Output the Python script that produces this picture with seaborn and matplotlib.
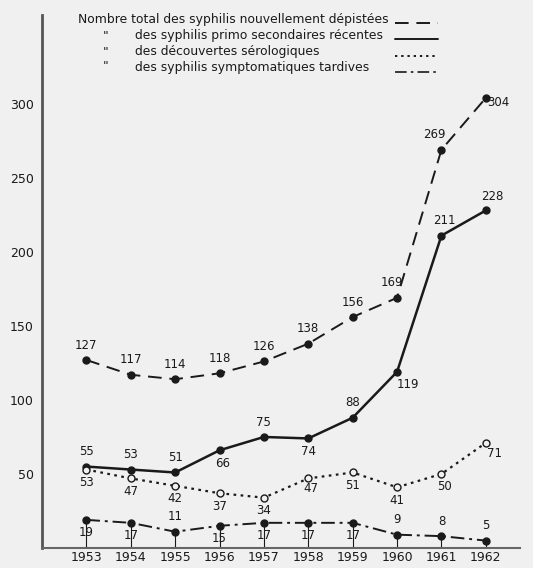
import pandas as pd
import matplotlib.pyplot as plt
import seaborn as sns
import numpy as np
from matplotlib.lines import Line2D

# Data
years = [1953, 1954, 1955, 1956, 1957, 1958, 1959, 1960, 1961, 1962]
total = [127, 117, 114, 118, 126, 138, 156, 169, 269, 304]
primo = [55, 53, 51, 66, 75, 74, 88, 119, 211, 228]
sero = [53, 47, 42, 37, 34, 47, 51, 41, 50, 71]
tardives = [19, 17, 11, 15, 17, 17, 17, 9, 8, 5]

first_label = "Nombre total des syphilis nouvellement dépistées"
other_labels = [
    "des syphilis primo secondaires récentes",
    "des découvertes sérologiques",
    "des syphilis symptomatiques tardives",
]

sns.set_style("white")
plt.rcParams["font.family"] = ["Liberation Sans Narrow", "DejaVu Sans"]
bg = "#f0f0f0"
ink = "#1a1a1a"

fig = plt.figure(figsize=(5.33, 5.68), dpi=100, facecolor=bg)
ax = fig.add_axes([42 / 533, 20 / 568, 478 / 533, 533 / 568])
ax.set_facecolor(bg)

df = pd.DataFrame({"year": years, "total": total, "primo": primo,
                   "sero": sero, "tardives": tardives})

styles = {
    "total": dict(ls=(0, (7, 4)), mfc=ink, lw=1.4),
    "primo": dict(ls="-", mfc=ink, lw=1.8),
    "sero": dict(ls=(0, (1.2, 2)), mfc=bg, lw=1.6),
    "tardives": dict(ls=(0, (7, 2.5, 1.5, 2.5)), mfc=ink, lw=1.4),
}
for col, st in styles.items():
    sns.lineplot(data=df, x="year", y=col, ax=ax, color=ink, linestyle=st["ls"],
                 linewidth=st["lw"], marker="o", markersize=5,
                 markerfacecolor=st["mfc"], markeredgecolor=ink, markeredgewidth=1)

# drop lines to the axis
ax.vlines(years, 0, tardives, color=ink, lw=0.8)

# value labels: offsets in points
offs = {
    "total": [(0, 6), (0, 6), (0, 6), (0, 6), (0, 6), (0, 6), (0, 6), (-4, 6), (-5, 6), (9, -8)],
    "primo": [(0, 6), (0, 6), (0, 6), (2, -14), (0, 6), (0, -14), (0, 6), (8, -14), (2, 6), (5, 5)],
    "sero": [(0, -14), (0, -14), (0, -14), (0, -14), (0, -14), (2, -12), (0, -14), (0, -14), (2, -14), (6, -12)],
    "tardives": [(0, -14), (0, -14), (0, 6), (0, -14), (0, -14), (0, -14), (0, -14), (0, 6), (0, 6), (0, 6)],
}
for col in offs:
    for x, v, o in zip(years, df[col], offs[col]):
        ax.annotate(str(v), (x, v), xytext=o, textcoords="offset points",
                    ha="center", va="bottom", fontsize=8.5, color=ink)

ax.set_xlim(1952.0, 1962.77)
ax.set_ylim(0, 360)
ax.set_yticks([50, 100, 150, 200, 250, 300])
ax.set_xticks(years)
ax.tick_params(axis="y", direction="in", length=5, width=1, colors="#444",
               labelsize=9, pad=6, labelcolor=ink)
ax.tick_params(axis="x", length=0, labelsize=9, pad=2, labelcolor=ink)
ax.set_xlabel("")
ax.set_ylabel("")
sns.despine(ax=ax)
ax.spines["left"].set_color("#555")
ax.spines["left"].set_linewidth(2)
ax.spines["bottom"].set_color("#666")
ax.spines["bottom"].set_linewidth(1.5)

# legend text, left aligned, with ditto marks
row_y = [20, 36, 52, 67]
fig.text(78 / 533, 1 - row_y[0] / 568, first_label, fontsize=8.9, color=ink, va="center")
for lab, yy in zip(other_labels, row_y[1:]):
    fig.text(103 / 533, 1 - yy / 568, "\"", fontsize=8.9, color=ink, va="center")
    fig.text(135 / 533, 1 - yy / 568, lab, fontsize=8.9, color=ink, va="center")

# legend line samples
handles = [Line2D([], [], color=ink, linestyle=styles[c]["ls"], lw=w)
           for c, w in zip(styles, [1.4, 1.4, 1.4, 1.2])]
leg = ax.legend(handles, ["", "", "", ""], loc="upper left", frameon=False,
                bbox_to_anchor=(395 / 533, 1 - 17 / 568), bbox_transform=fig.transFigure,
                markerfirst=False, handlelength=3.4, fontsize=9,
                labelspacing=0.28, borderpad=0, borderaxespad=0, handletextpad=0)

plt.savefig("out.png", dpi=100, facecolor=bg)
